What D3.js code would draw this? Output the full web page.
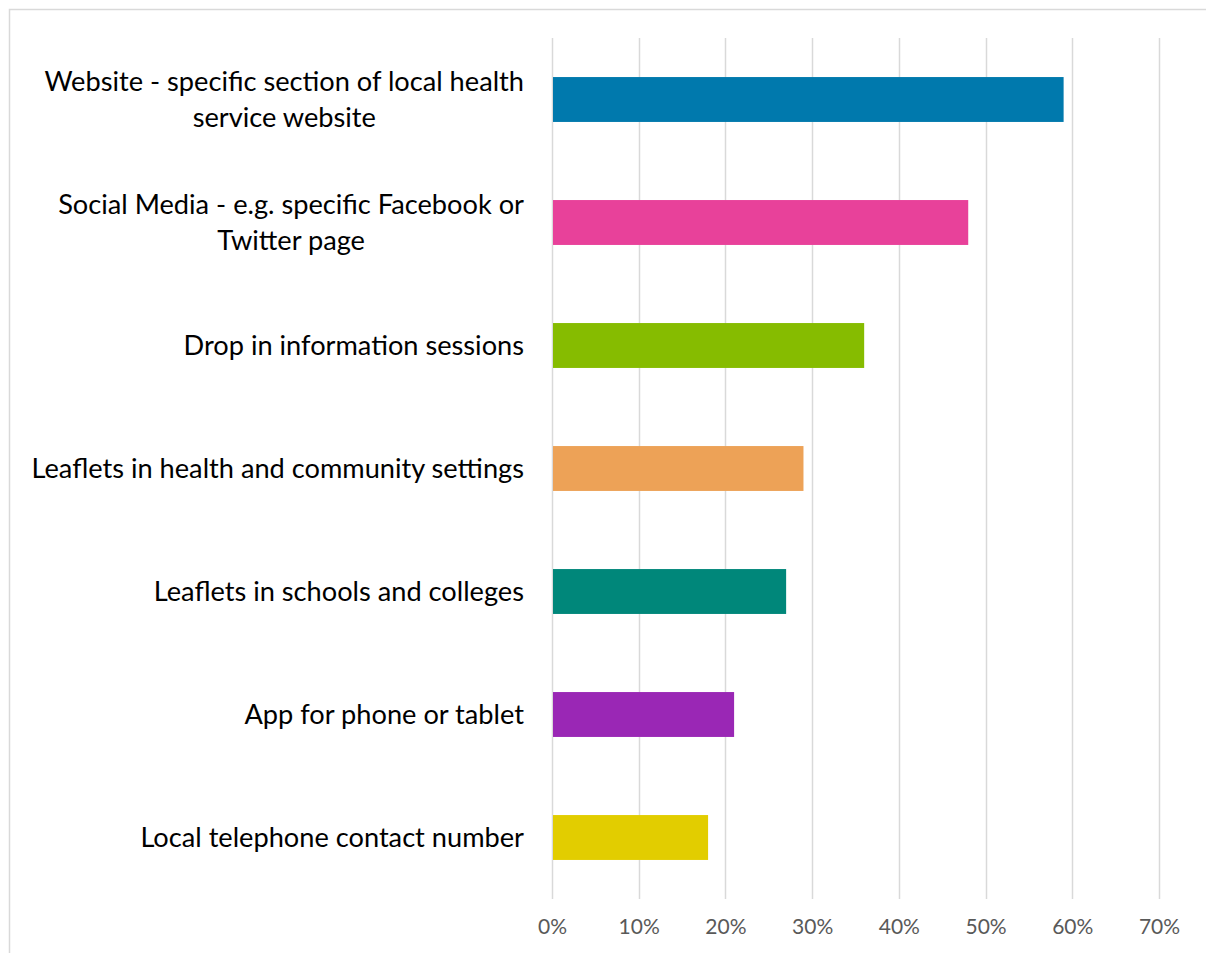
<!DOCTYPE html>
<html>
<head>
<meta charset="utf-8">
<script src="https://cdn.jsdelivr.net/npm/d3@7"></script>
<style>
  html, body { margin: 0; padding: 0; background: #fff; }
  svg { display: block; }
</style>
</head>
<body>
<script>
const categories = [
  "Website - specific section of local health\nservice website",
  "Social Media - e.g. specific Facebook or\nTwitter page",
  "Drop in information sessions",
  "Leaflets in health and community settings",
  "Leaflets in schools and colleges",
  "App for phone or tablet",
  "Local telephone contact number"
];
const values = [0.59, 0.48, 0.36, 0.29, 0.27, 0.21, 0.18];
const colors = ["#0079AD", "#E8419A", "#86BC00", "#EDA257", "#00877A", "#9A27B5", "#E2CD00"];
const tickValues = [0, 0.1, 0.2, 0.3, 0.4, 0.5, 0.6, 0.7];

const W = 1206, H = 953;
const svg = d3.select("body").append("svg").attr("width", W).attr("height", H);

// chart frame (cropped at right and bottom)
svg.append("rect")
  .attr("x", 9.5).attr("y", 9.5)
  .attr("width", W + 10).attr("height", H + 10)
  .attr("fill", "#fff").attr("stroke", "#d9d9d9").attr("stroke-width", 1.5);

const x = d3.scaleLinear().domain([0, 0.7]).range([552, 1159]);
const y = d3.scaleBand().domain(categories).range([38, 899]).paddingInner(0.635).paddingOuter(0.3175);

// gridlines
svg.append("g").selectAll("line").data(tickValues).join("line")
  .attr("x1", d => Math.round(x(d)) + 0.5).attr("x2", d => Math.round(x(d)) + 0.5)
  .attr("y1", 38).attr("y2", 899)
  .attr("stroke", "#d9d9d9").attr("stroke-width", 1.5);

// bars
svg.append("g").selectAll("rect").data(categories).join("rect")
  .attr("x", x(0) + 1)
  .attr("y", d => y(d))
  .attr("width", (d, i) => x(values[i]) - x(0) - 1)
  .attr("height", y.bandwidth())
  .attr("fill", (d, i) => colors[i]);

// x axis tick labels
const xAxis = d3.axisBottom(x).tickValues(tickValues).tickFormat(d3.format(".0%")).tickSize(0).tickPadding(0);
const gx = svg.append("g").attr("transform", "translate(0,919)").call(xAxis);
gx.select(".domain").remove();
gx.selectAll("text")
  .attr("font-family", "Lato, 'Open Sans', sans-serif")
  .attr("font-size", 21)
  .attr("fill", "#595959");

// category labels, centered multi-line, right edge at 524
const labelG = svg.append("g");
categories.forEach((c, i) => {
  const lines = c.split("\n");
  const t = labelG.append("text")
    .attr("font-family", "Lato, 'Open Sans', sans-serif")
    .attr("font-size", 27.2)
    .attr("fill", "#000")
    .attr("text-anchor", "middle");
  const cy = y(c) + y.bandwidth() / 2;
  const lh = 36;
  lines.forEach((ln, j) => {
    t.append("tspan")
      .attr("y", cy + (j - (lines.length - 1) / 2) * lh)
      .attr("dy", "0.35em")
      .text(ln);
  });
  let maxW = 0;
  t.selectAll("tspan").each(function () { maxW = Math.max(maxW, this.getComputedTextLength()); });
  t.selectAll("tspan").attr("x", 524 - maxW / 2);
});
</script>
</body>
</html>
